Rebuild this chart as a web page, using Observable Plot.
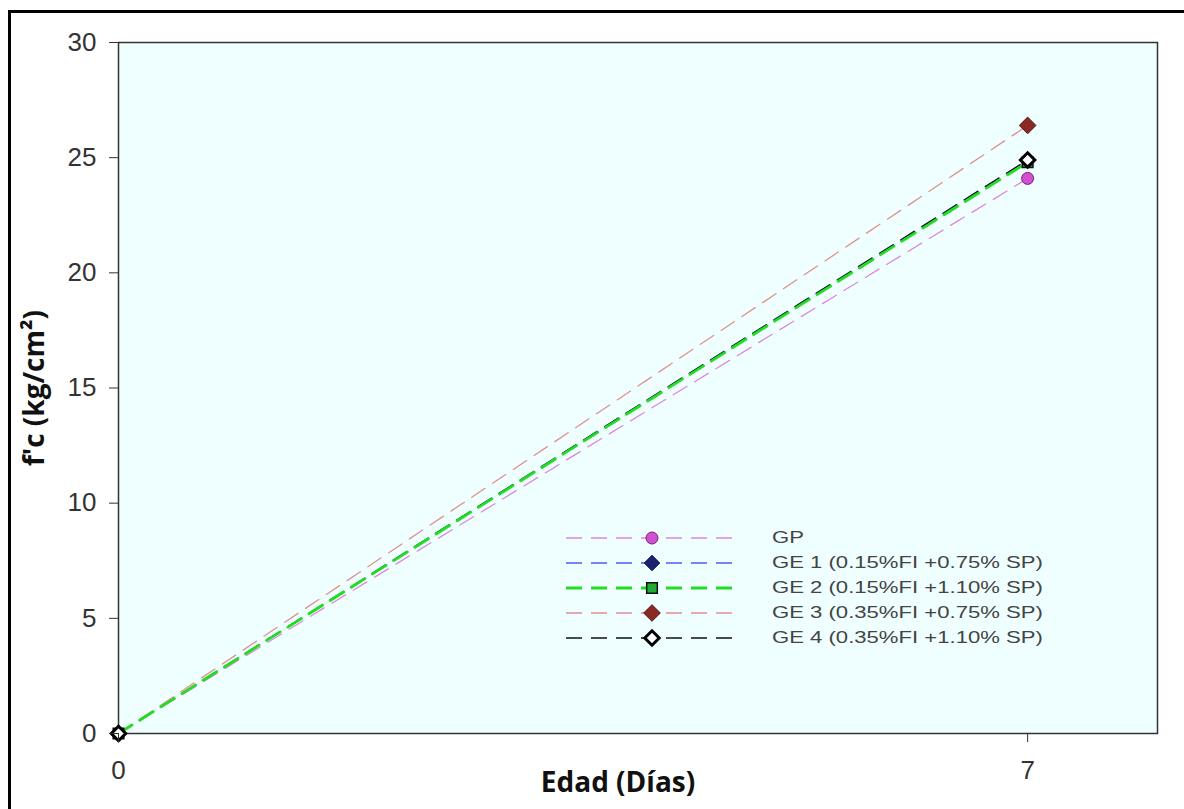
<!DOCTYPE html>
<html>
<head>
<meta charset="utf-8">
<script src="https://cdn.jsdelivr.net/npm/d3@7"></script>
<script src="https://cdn.jsdelivr.net/npm/@observablehq/plot@0.6"></script>
<style>
  html, body { margin: 0; padding: 0; background: #fff; overflow: hidden; }
  #wrap { position: relative; width: 1184px; height: 809px; overflow: hidden; }
  #border { position: absolute; left: 8px; top: 10px; width: 1200px; height: 840px; border: 3px solid #000; box-sizing: border-box; pointer-events: none; }
  #chart { position: absolute; left: 0; top: 0; }
  #chart svg { overflow: visible; }
  g[aria-label="y-axis tick label"] text, g[aria-label="x-axis tick label"] text { font-family: "Liberation Sans", Arial, sans-serif; font-size: 26px; fill: #333; }
  g[aria-label="y-axis label"] text { font-family: "Open Sans", sans-serif; font-weight: bold; font-size: 28px; fill: #111; }
  #legend { position: absolute; left: 562px; top: 526px; font-family: "Liberation Sans", Arial, sans-serif; font-size: 17px; color: #444; }
  .row { display: flex; align-items: center; height: 24.8px; }
  .row svg { width: 180px; height: 24px; margin-right: 30px; flex: none; }
  .row span { display: inline-block; transform: scaleX(1.3); transform-origin: left center; white-space: nowrap; }
</style>
</head>
<body>
<div id="wrap">
  <div id="chart"></div>
  <div id="legend"></div>
  <div id="border"></div>
</div>
<script>
const days = [0, 7];
const seriesNames = ["GP", "GE 1 (0.15%FI +0.75% SP)", "GE 2 (0.15%FI +1.10% SP)", "GE 3 (0.35%FI +0.75% SP)", "GE 4 (0.35%FI +1.10% SP)"];
const GP  = [0, 24.1];
const GE1 = [0, 24.9];
const GE2 = [0, 24.8];
const GE3 = [0, 26.4];
const GE4 = [0, 24.9];
const xTicks = [0, 7];
const yTicks = [0, 5, 10, 15, 20, 25, 30];
const xTitle = "Edad (Días)";
const yTitle = "f'c (kg/cm²)";

const dash = "16,9";
const styles = [
  {line: "#dd88dd", width: 1.3, symbol: "circle", fill: "#d050d0", mstroke: "#7a207a", mwidth: 1, r: 6},
  {line: "#4d5cf5", width: 1.5, symbol: "diamond2", fill: "#1c2270", mstroke: "#10144a", mwidth: 1, r: 7},
  {line: "#22dd22", width: 2.8, symbol: "square", fill: "#22aa33", mstroke: "#111", mwidth: 1.5, r: 6},
  {line: "#e09090", width: 1.3, symbol: "diamond2", fill: "#8b2a22", mstroke: "#4a1510", mwidth: 1, r: 7.5},
  {line: "#111111", width: 1.3, symbol: "diamond2", fill: "#ffffff", mstroke: "#000", mwidth: 3, r: 6.5}
];
const values = [GP, GE1, GE2, GE3, GE4];
const series = seriesNames.map((name, i) => days.map((d, j) => ({name, day: d, fc: values[i][j]})));

const drawOrder = [0, 3, 1, 4, 2];
const markerOrder = [0, 3, 1, 2, 4];
const marks = [Plot.frame({fill: "#efffff", stroke: "#333", strokeWidth: 1.5})];
for (const i of drawOrder) {
  const s = styles[i];
  marks.push(Plot.line(series[i], {x: "day", y: "fc", stroke: s.line, strokeWidth: s.width, strokeDasharray: dash}));
}
for (const i of markerOrder) {
  const s = styles[i];
  marks.push(Plot.dot(series[i], {x: "day", y: "fc", symbol: s.symbol, fill: s.fill, stroke: s.mstroke, strokeWidth: s.mwidth, r: s.r}));
}

const chart = Plot.plot({
  width: 1184,
  height: 809,
  marginLeft: 118,
  marginTop: 42,
  marginRight: 27,
  marginBottom: 76,
  style: {background: "transparent"},
  x: {domain: [0, 8], label: null},
  y: {domain: [0, 30], label: null},
  marks: [
    ...marks,
    Plot.axisX({ticks: xTicks, tickSize: 9, tickPadding: 18, label: null, stroke: "#333"}),
    Plot.text([xTitle], {frameAnchor: "bottom", dx: -20, dy: 58, text: d => d, fontFamily: "Open Sans, sans-serif", fontWeight: "bold", fontSize: 28, fill: "#111"}),
    Plot.axisY({ticks: yTicks, tickSize: 9, tickPadding: 13, label: yTitle, labelArrow: "none", labelAnchor: "center", labelOffset: 94, stroke: "#333"})
  ]
});
document.getElementById("chart").appendChild(chart);

// Legend
const legend = d3.select("#legend");
const symMap = {circle: d3.symbolCircle, diamond2: d3.symbolDiamond2, square: d3.symbolSquare};
seriesNames.forEach((name, i) => {
  const s = styles[i];
  const row = legend.append("div").attr("class", "row");
  const svg = row.append("svg");
  svg.append("line").attr("x1", 4).attr("x2", 176).attr("y1", 12).attr("y2", 12)
    .attr("stroke", s.line).attr("stroke-width", s.width).attr("stroke-dasharray", dash);
  const area = Math.PI * s.r * s.r;
  svg.append("path").attr("transform", "translate(90,12)")
    .attr("d", d3.symbol(symMap[s.symbol], area)())
    .attr("fill", s.fill).attr("stroke", s.mstroke).attr("stroke-width", s.mwidth);
  row.append("span").text(name);
});
</script>
</body>
</html>
